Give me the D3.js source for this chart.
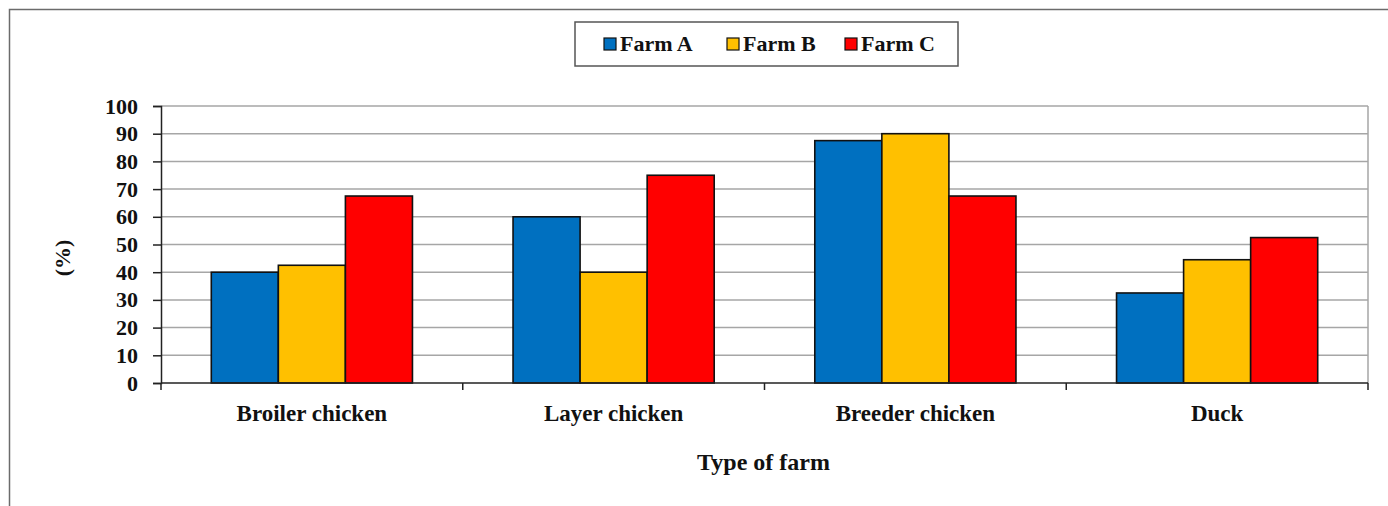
<!DOCTYPE html>
<html>
<head>
<meta charset="utf-8">
<script src="https://cdn.jsdelivr.net/npm/d3@7"></script>
<style>
  html, body { margin: 0; padding: 0; background: #fff; }
  svg { display: block; font-family: "Liberation Serif", "Times New Roman", serif; font-weight: bold; }
</style>
</head>
<body>
<svg id="chart" width="1388" height="506"></svg>
<script>
// Share of farms (%) by farm type, for three farms
const categories = ["Broiler chicken", "Layer chicken", "Breeder chicken", "Duck"];
const seriesNames = ["Farm A", "Farm B", "Farm C"];
const farmA = [40, 60, 87.5, 32.5];
const farmB = [42.5, 40, 90, 44.5];
const farmC = [67.5, 75, 67.5, 52.5];
const seriesColors = ["#0070C0", "#FFC000", "#FF0000"];
const yTicks = [0, 10, 20, 30, 40, 50, 60, 70, 80, 90, 100];

const seriesValues = [farmA, farmB, farmC];

const svg = d3.select("#chart");
const margin = { left: 161, right: 1368, top: 106, bottom: 383 };

// Outer chart frame
svg.append("rect")
  .attr("x", 9.5).attr("y", 9.5)
  .attr("width", 1400).attr("height", 520)
  .attr("fill", "none").attr("stroke", "#6b6b6b").attr("stroke-width", 1.5);

const x = d3.scaleBand().domain(categories).range([margin.left, margin.right]);
const inner = d3.scaleBand().domain(seriesNames)
  .range([0, x.bandwidth()]).paddingOuter(0.75).paddingInner(0);
const y = d3.scaleLinear().domain([0, 100]).range([margin.bottom, margin.top]);

// Horizontal gridlines
svg.append("g").selectAll("line").data(yTicks.filter(d => d > 0)).join("line")
  .attr("x1", margin.left).attr("x2", margin.right)
  .attr("y1", d => y(d)).attr("y2", d => y(d))
  .attr("stroke", "#a6a6a6").attr("stroke-width", 1.5);

// Right border of plot area
svg.append("line")
  .attr("x1", margin.right).attr("x2", margin.right)
  .attr("y1", margin.top).attr("y2", margin.bottom)
  .attr("stroke", "#a6a6a6").attr("stroke-width", 1.5);

// Bars
const groups = svg.append("g").selectAll("g").data(categories).join("g")
  .attr("transform", d => `translate(${x(d)},0)`);
groups.selectAll("rect")
  .data((c, i) => seriesNames.map((s, j) => ({ s, v: seriesValues[j][i], color: seriesColors[j] })))
  .join("rect")
  .attr("x", d => inner(d.s))
  .attr("width", inner.bandwidth())
  .attr("y", d => y(d.v))
  .attr("height", d => y(0) - y(d.v))
  .attr("fill", d => d.color)
  .attr("stroke", "#111").attr("stroke-width", 1.6);

// Y axis
const yAxis = svg.append("g")
  .attr("transform", `translate(${margin.left},0)`)
  .call(d3.axisLeft(y).tickValues(yTicks).tickSize(8).tickPadding(15));
yAxis.select(".domain").attr("stroke", "#222").attr("stroke-width", 1.5);
yAxis.selectAll(".tick line").attr("stroke", "#222").attr("stroke-width", 1.5);
yAxis.selectAll(".tick text")
  .attr("font-family", "Liberation Serif, serif").attr("font-weight", "bold")
  .attr("font-size", 22).attr("fill", "#111");

// X axis line with ticks at band boundaries
svg.append("line")
  .attr("x1", margin.left).attr("x2", margin.right)
  .attr("y1", y(0)).attr("y2", y(0))
  .attr("stroke", "#222").attr("stroke-width", 1.5);
const boundaries = categories.map(c => x(c)).concat([margin.right]);
svg.append("g").selectAll("line").data(boundaries).join("line")
  .attr("x1", d => d).attr("x2", d => d)
  .attr("y1", y(0)).attr("y2", y(0) + 7)
  .attr("stroke", "#222").attr("stroke-width", 1.5);

// Category labels
svg.append("g").selectAll("text").data(categories).join("text")
  .attr("x", d => x(d) + x.bandwidth() / 2)
  .attr("y", 421)
  .attr("text-anchor", "middle")
  .attr("font-size", 23).attr("fill", "#111")
  .text(d => d);

// Axis titles
svg.append("text")
  .attr("x", (margin.left + margin.right) / 2 - 1).attr("y", 470)
  .attr("text-anchor", "middle").attr("font-size", 24).attr("fill", "#111")
  .text("Type of farm");
svg.append("text")
  .attr("transform", "translate(70,258) rotate(-90)")
  .attr("text-anchor", "middle").attr("font-size", 22).attr("fill", "#111")
  .text("(%)");

// Legend
const legend = svg.append("g");
legend.append("rect")
  .attr("x", 575).attr("y", 22).attr("width", 383).attr("height", 44)
  .attr("fill", "#fff").attr("stroke", "#555").attr("stroke-width", 1.5);
const legendX = [604, 727, 845];
const items = legend.selectAll("g").data(seriesNames).join("g")
  .attr("transform", (d, i) => `translate(${legendX[i]},38)`);
items.append("rect")
  .attr("width", 12).attr("height", 12)
  .attr("fill", (d, i) => seriesColors[i])
  .attr("stroke", "#111").attr("stroke-width", 1.2);
items.append("text")
  .attr("x", 16).attr("y", 13)
  .attr("font-size", 22).attr("fill", "#111")
  .text(d => d);
</script>
</body>
</html>
